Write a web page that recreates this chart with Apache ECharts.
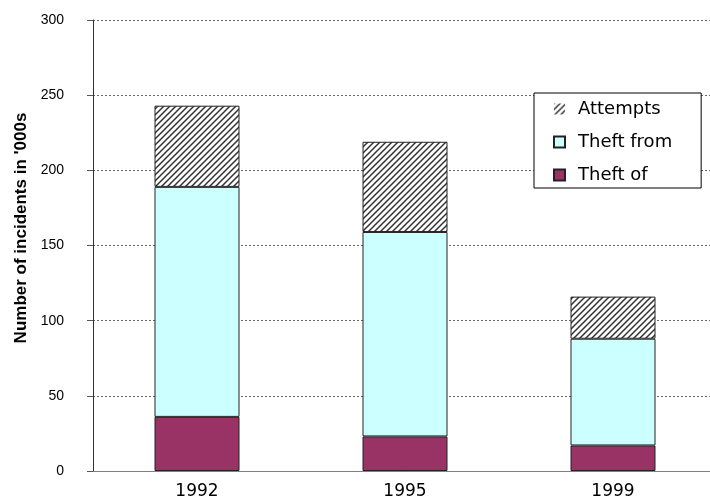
<!DOCTYPE html>
<html>
<head>
<meta charset="utf-8">
<script src="https://cdn.jsdelivr.net/npm/echarts@6/dist/echarts.min.js"></script>
<style>
  html, body { margin: 0; padding: 0; background: #fff; }
  #chart { width: 710px; height: 502px; }
</style>
</head>
<body>
<div id="chart"></div>
<script>
// data, in thousands
const years = ['1992', '1995', '1999']
const theftOf = [36, 23, 17]
const theftFrom = [153, 136, 71]
const attempts = [54, 60, 28]
const yTicks = { min: 0, max: 300, step: 50 }

// diagonal hatch for the "Attempts" part
function hatch () {
  const c = document.createElement('canvas')
  c.width = 6
  c.height = 6
  const ctx = c.getContext('2d')
  ctx.fillStyle = '#fff'
  ctx.fillRect(0, 0, 6, 6)
  ctx.strokeStyle = '#333'
  ctx.lineWidth = 1.5
  ctx.beginPath()
  ctx.moveTo(-1, 7); ctx.lineTo(7, -1)
  ctx.moveTo(-4, 4); ctx.lineTo(4, -4)
  ctx.moveTo(2, 10); ctx.lineTo(10, 2)
  ctx.stroke()
  return c
}

const myChart = echarts.init(document.getElementById('chart'))
const border = { borderColor: '#222', borderWidth: 1 }
const option = {
  backgroundColor: '#fff',
  animation: false,
  textStyle: { fontFamily: 'DejaVu Sans', color: '#000' },
  grid: { left: 93, width: 624, top: 20, bottom: 31, containLabel: false, outerBoundsMode: 'none' },
  legend: {
    data: [
      { name: 'Attempts', itemStyle: { borderWidth: 0 } },
      'Theft from',
      'Theft of'
    ],
    orient: 'vertical',
    left: 534,
    top: 93,
    backgroundColor: '#fff',
    borderColor: '#000',
    borderWidth: 1,
    borderRadius: 0,
    padding: [7, 29, 4, 19],
    itemWidth: 11,
    itemHeight: 11,
    itemGap: 15,
    icon: 'rect',
    textStyle: { fontFamily: 'DejaVu Sans', fontSize: 18, color: '#000', padding: [0, 0, 0, 8] }
  },
  xAxis: {
    type: 'category',
    data: years,
    axisLine: { lineStyle: { color: '#808080', width: 1 } },
    axisTick: { show: false },
    axisLabel: { fontFamily: 'DejaVu Sans', fontSize: 17, color: '#000', margin: 12 }
  },
  yAxis: {
    type: 'value',
    min: yTicks.min,
    max: yTicks.max,
    interval: yTicks.step,
    axisLine: { show: true, lineStyle: { color: '#333', width: 1 } },
    axisTick: { show: true, length: 6, lineStyle: { color: '#555' } },
    axisLabel: { fontFamily: 'Liberation Sans', fontSize: 14, color: '#000', margin: 29 },
    splitLine: { lineStyle: { color: '#666', type: [2, 2], width: 1 } }
  },
  graphic: [{
    type: 'text',
    x: 21,
    y: 228,
    rotation: Math.PI / 2,
    style: {
      text: "Number of incidents in '000s",
      font: 'bold 17px "Liberation Sans", Arial',
      fill: '#000',
      align: 'center',
      verticalAlign: 'middle'
    }
  }],
  series: [
    {
      name: 'Theft of',
      type: 'bar',
      stack: 'total',
      barWidth: 85,
      data: theftOf,
      itemStyle: Object.assign({ color: '#993366' }, border)
    },
    {
      name: 'Theft from',
      type: 'bar',
      stack: 'total',
      data: theftFrom,
      itemStyle: Object.assign({ color: '#CCFFFF' }, border)
    },
    {
      name: 'Attempts',
      type: 'bar',
      stack: 'total',
      data: attempts,
      itemStyle: Object.assign({ color: { image: hatch(), repeat: 'repeat' } }, border)
    }
  ]
}
myChart.setOption(option)
</script>
</body>
</html>
